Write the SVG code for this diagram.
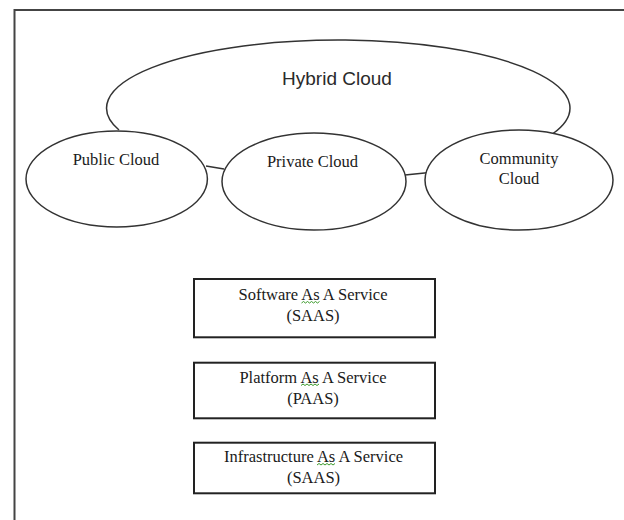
<svg xmlns="http://www.w3.org/2000/svg" width="624" height="520" viewBox="0 0 624 520">
<style>
.frame{fill:none;stroke:#444;stroke-width:2}
.el{fill:#fff;stroke:#333;stroke-width:1.5}
.box{fill:#fff;stroke:#222;stroke-width:2}
.conn{fill:none;stroke:#333;stroke-width:1.5}
.serif{font-family:"Liberation Serif","Times New Roman",serif;font-size:16.5px;fill:#1a1a1a;text-anchor:middle}
.sans{font-family:"Liberation Sans",Arial,sans-serif;font-size:19px;fill:#2a2a2a;text-anchor:middle}
.squig{fill:none;stroke:#3a9a2a;stroke-width:1}
</style>
<rect width="624" height="520" fill="#fff"/>
<path class="frame" d="M14.5,520 V10 H624"/>
<g id="hybrid-cloud">
<path class="el" fill="none" style="fill:none" d="M119,130 A231.7,68 0 1 1 552.4,134"/>
<text class="sans" x="337" y="85">Hybrid Cloud</text>
</g>
<g id="connectors">
<line class="conn" x1="206" y1="166" x2="224" y2="169"/>
<line class="conn" x1="405" y1="175" x2="427" y2="172.7"/>
</g>
<g id="public-cloud">
<ellipse class="el" cx="116.7" cy="179" rx="90.7" ry="48"/>
<text class="serif" x="116" y="165">Public Cloud</text>
</g>
<g id="private-cloud">
<ellipse class="el" cx="314" cy="181.5" rx="92" ry="48.5"/>
<text class="serif" x="312.5" y="167.3">Private Cloud</text>
</g>
<g id="community-cloud">
<ellipse class="el" cx="519" cy="180" rx="94" ry="50"/>
<text class="serif" x="519" y="164.3">Community</text>
<text class="serif" x="519" y="184.3">Cloud</text>
</g>
<g id="saas">
<rect class="box" x="194" y="279" width="241" height="58.3"/>
<text class="serif" x="313" y="300">Software As A Service</text>
<text class="serif" x="313" y="321">(SAAS)</text>
<path class="squig" d="M301.5,303 l2,-1.5 l2,1.5 l2,-1.5 l2,1.5 l2,-1.5 l2,1.5 l2,-1.5 l2,1.5 l2,-1.5"/>
</g>
<g id="paas">
<rect class="box" x="194" y="362.7" width="241" height="55.6"/>
<text class="serif" x="313" y="382.7">Platform As A Service</text>
<text class="serif" x="313" y="404">(PAAS)</text>
<path class="squig" d="M301,385.5 l2,-1.5 l2,1.5 l2,-1.5 l2,1.5 l2,-1.5 l2,1.5 l2,-1.5 l2,1.5 l2,-1.5"/>
</g>
<g id="iaas">
<rect class="box" x="194" y="442.7" width="241" height="50.6"/>
<text class="serif" x="313.5" y="461.7">Infrastructure As A Service</text>
<text class="serif" x="313.5" y="482.7">(SAAS)</text>
<path class="squig" d="M317,465 l2,-1.5 l2,1.5 l2,-1.5 l2,1.5 l2,-1.5 l2,1.5 l2,-1.5 l2,1.5 l2,-1.5"/>
</g>
</svg>
